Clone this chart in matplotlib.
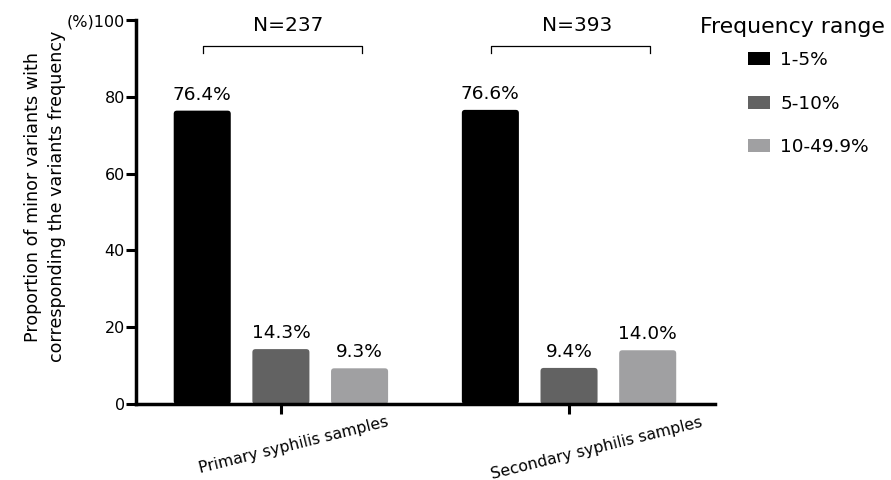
import numpy as np
import matplotlib; matplotlib.use("Agg")
import matplotlib.pyplot as plt
from matplotlib.patches import Patch, FancyBboxPatch

groups = ["Primary syphilis samples", "Secondary syphilis samples"]
ranges = ["1-5%", "5-10%", "10-49.9%"]
v_1_5 = [76.4, 76.6]
v_5_10 = [14.3, 9.4]
v_10_49 = [9.3, 14.0]
n_labels = ["N=237", "N=393"]
series = [v_1_5, v_5_10, v_10_49]
colors = ["#000000", "#626262", "#a0a0a2"]

plt.rcParams['font.family'] = ['DejaVu Sans']
fig = plt.figure(figsize=(8.91, 4.8), dpi=100)
ax = fig.add_axes([0.1526, 0.1583, 0.65, 0.80])
ax.set_xlim(-0.503, 1.507)
ax.set_ylim(0, 100)

x = np.arange(len(groups))
step, w = 0.273, 0.198
for i, (vals, c) in enumerate(zip(series, colors)):
    xs = x + (i - 1) * step
    bars = ax.bar(xs, vals, width=w, color=c, label=ranges[i])
    # swap each bar for a slightly rounded one (rounding ~3px on both axes)
    for b in bars:
        b.set_visible(False)
        ax.add_patch(FancyBboxPatch((b.get_x(), b.get_y()), b.get_width(), b.get_height(),
                                    boxstyle="round,pad=0,rounding_size=0.011",
                                    mutation_aspect=75, facecolor=c, edgecolor='none'))
    for xi, v in zip(xs, vals):
        ax.text(xi, v + 1.8, f"{v:.1f}%", ha='center', va='bottom', fontsize=13.3)

# N brackets
for xi, lab in zip(x, n_labels):
    l, r = xi - 0.27, xi + 0.28
    ax.plot([l, l, r, r], [91.3, 93.2, 93.2, 91.3], color='k', lw=0.9, clip_on=False)
    ax.text(xi + 0.027, 97.1, lab, ha='center', va='baseline', fontsize=14.5)

ax.set_yticks([0, 20, 40, 60, 80, 100])
ax.set_yticklabels(["0", "20", "40", "60", "80", "(%)100"], fontsize=11.5)
ax.set_xticks(x)
ax.set_xticklabels([])
for xi, grp, dx in zip(x, groups, [9.5, 20]):
    ax.annotate(grp, xy=(xi, 0), xycoords=('data', 'axes fraction'),
                xytext=(dx, -7.5), textcoords='offset points',
                ha='center', va='top', rotation=14, fontsize=11.3)
ax.tick_params(axis='both', width=2.2, length=7, pad=1)
for s in ['top', 'right']:
    ax.spines[s].set_visible(False)
for s in ['left', 'bottom']:
    ax.spines[s].set_linewidth(2.5)
    ax.spines[s].set_zorder(3)
ax.set_ylabel("Proportion of minor variants with\ncorresponding the variants frequency",
              fontsize=12.6, linespacing=1.4)
ax.yaxis.set_label_coords(-0.121, 0.54)

fig.text(700 / 891, 1 - 33 / 480, "Frequency range", ha='left', va='baseline', fontsize=15.8)
handles = [Patch(facecolor=c, edgecolor='none', label=r) for c, r in zip(colors, ranges)]
fig.legend(handles=handles, loc='upper left',
           bbox_to_anchor=(748 / 891, 0.893), frameon=False, fontsize=13.3,
           handlelength=1.2, handleheight=0.72, labelspacing=1.38, handletextpad=0.55,
           borderpad=0, borderaxespad=0)

fig.savefig("out.png", dpi=100, facecolor='white')
